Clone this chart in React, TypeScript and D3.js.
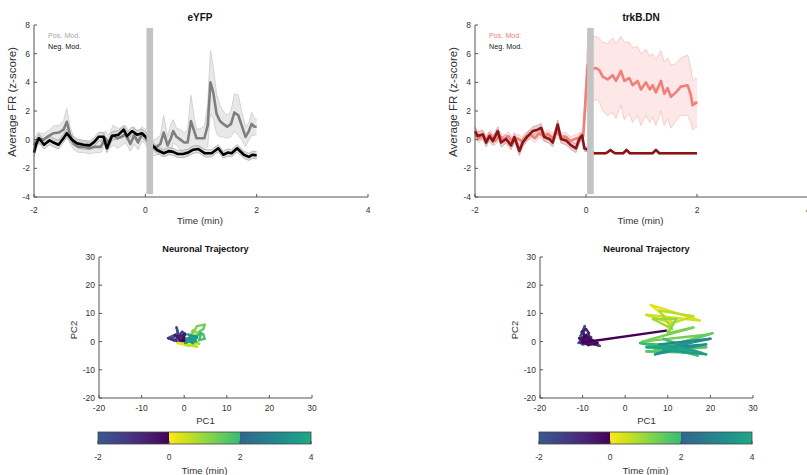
import React from 'react';
import * as d3 from 'd3';

// ---------- Data ----------
const eyfpPosT = [-2, -1.93, -1.83, -1.72, -1.65, -1.55, -1.47, -1.41, -1.35, -1.28, -1.2, -1.1, -1.0, -0.9, -0.8, -0.72, -0.66, -0.58, -0.5, -0.42, -0.35, -0.27, -0.2, -0.13, -0.06, 0, 0.06, 0.13, 0.2, 0.27, 0.33, 0.4, 0.46, 0.5, 0.56, 0.63, 0.7, 0.76, 0.82, 0.86, 0.92, 1.0, 1.06, 1.12, 1.17, 1.22, 1.28, 1.34, 1.4, 1.47, 1.54, 1.6, 1.67, 1.73, 1.8, 1.86, 1.91, 1.96, 2.0];
const eyfpPosM = [-0.4, 0.1, 0, 0.3, 0.45, 0.5, 0.7, 1.25, 0.3, -0.3, -0.5, -0.5, -0.6, -0.5, -0.5, 0.1, -0.2, 0.3, 0.1, 0.2, 0.4, -0.3, 0.3, -0.2, 0.4, 0.2, -0.3, -0.6, -0.5, -0.3, 0.5, -0.4, 0.1, 0.6, 0.2, 0, -0.2, -0.2, 1.3, 0.8, 0.1, 0.1, 0.1, 1.0, 4.0, 3.3, 1.8, 1.3, 1.1, 0.9, 1.1, 1.9, 1.7, 1.0, 0.2, 0.6, 1.1, 0.9, 0.9];
const eyfpPosS = [0.4, 0.4, 0.4, 0.4, 0.5, 0.5, 0.6, 0.95, 0.6, 0.4, 0.4, 0.4, 0.4, 0.4, 0.4, 0.5, 0.5, 0.7, 0.7, 0.6, 0.6, 0.5, 0.6, 0.5, 0.5, 0.5, 0.5, 0.5, 0.6, 0.6, 1.2, 0.6, 1.0, 0.8, 0.6, 0.7, 0.7, 0.9, 1.8, 1.2, 0.6, 0.7, 0.8, 1.5, 2.2, 1.8, 1.4, 1.1, 0.9, 0.8, 0.9, 1.3, 1.4, 1.0, 0.7, 0.6, 0.8, 0.6, 0.5];

const eyfpNegT = [-2, -1.96, -1.91, -1.82, -1.72, -1.65, -1.56, -1.47, -1.41, -1.32, -1.23, -1.11, -1.0, -0.93, -0.84, -0.75, -0.69, -0.6, -0.48, -0.39, -0.33, -0.24, -0.15, -0.06, 0.03, 0.09, 0.21, 0.33, 0.42, 0.5, 0.58, 0.68, 0.77, 0.86, 0.95, 1.07, 1.19, 1.31, 1.4, 1.48, 1.55, 1.65, 1.77, 1.86, 1.93, 2.0];
const eyfpNegM = [-0.9, -0.3, 0.1, -0.35, -0.05, -0.2, -0.35, 0.1, 0.45, 0, -0.25, -0.35, -0.4, -0.2, 0.2, 0.2, -0.6, 0.25, 0.35, 0.7, 0.25, 0.6, 0.35, 0.45, 0.1, -0.25, -0.72, -0.95, -0.8, -0.85, -1.0, -1.0, -0.9, -0.7, -0.65, -0.95, -0.95, -0.6, -1.05, -0.9, -0.95, -0.6, -1.05, -1.2, -1.05, -1.1];
const eyfpNegS = [0.3, 0.3, 0.3, 0.3, 0.3, 0.3, 0.3, 0.3, 0.3, 0.3, 0.3, 0.3, 0.3, 0.3, 0.3, 0.3, 0.3, 0.3, 0.3, 0.3, 0.3, 0.3, 0.3, 0.3, 0.3, 0.25, 0.25, 0.25, 0.25, 0.25, 0.25, 0.25, 0.25, 0.25, 0.25, 0.25, 0.25, 0.25, 0.25, 0.25, 0.25, 0.25, 0.25, 0.25, 0.25, 0.25];

const trkPosT = [-2, -1.93, -1.86, -1.8, -1.72, -1.64, -1.56, -1.48, -1.4, -1.32, -1.24, -1.16, -1.08, -1.0, -0.92, -0.84, -0.76, -0.68, -0.6, -0.52, -0.44, -0.36, -0.28, -0.2, -0.12, -0.05, 0.03, 0.09, 0.18, 0.24, 0.3, 0.39, 0.48, 0.54, 0.63, 0.69, 0.78, 0.84, 0.93, 0.99, 1.08, 1.15, 1.2, 1.26, 1.35, 1.41, 1.47, 1.53, 1.62, 1.71, 1.83, 1.89, 1.92, 1.98, 2.0];
const trkPosM = [0.5, 0.1, 0.3, 0, 0.35, -0.1, 0.3, 0, 0.25, -0.2, 0.1, -0.1, 0.2, 0.35, 0.1, 0.45, 0.2, 0.4, 0.1, 0.5, 0.15, 0.2, -0.1, 0.05, 0.15, 0.25, 5.2, 4.9, 5.0, 4.85, 4.4, 4.2, 4.5, 4.1, 4.8, 4.1, 4.3, 3.8, 4.1, 3.5, 4.0, 3.5, 3.8, 3.3, 4.1, 3.2, 3.6, 3.0, 3.3, 3.7, 3.8, 3.1, 2.4, 2.6, 2.5];
const trkPosS = [0.3, 0.3, 0.3, 0.3, 0.3, 0.3, 0.3, 0.3, 0.3, 0.3, 0.3, 0.3, 0.3, 0.3, 0.3, 0.3, 0.3, 0.3, 0.3, 0.3, 0.3, 0.3, 0.3, 0.3, 0.3, 0.3, 2.0, 2.3, 2.2, 2.2, 2.4, 2.5, 2.6, 2.6, 2.4, 2.7, 2.5, 2.6, 2.4, 2.5, 2.3, 2.3, 2.2, 2.3, 2.1, 2.2, 2.1, 2.2, 2.0, 2.0, 2.1, 1.9, 1.7, 1.7, 1.7];

const trkNegT = [-2, -1.95, -1.86, -1.8, -1.74, -1.68, -1.59, -1.53, -1.44, -1.35, -1.29, -1.2, -1.14, -1.05, -0.96, -0.87, -0.81, -0.75, -0.66, -0.6, -0.51, -0.45, -0.36, -0.27, -0.18, -0.12, -0.07, -0.03, 0.06, 0.15, 0.35, 0.4, 0.44, 0.48, 0.53, 0.67, 0.73, 0.79, 1.2, 1.26, 1.32, 2.0];
const trkNegM = [0.6, 0.25, 0.37, -0.2, 0.25, -0.1, 0.6, -0.2, 0.05, -0.4, 0.18, -0.8, -0.2, 0.25, 0.6, 0.7, 0.83, 0.18, 0.05, -0.2, 1.06, 0.05, -0.05, -0.4, -0.6, 0.05, 0.3, -0.6, -0.75, -0.95, -0.95, -0.85, -0.72, -0.85, -0.95, -0.95, -0.72, -0.95, -0.95, -0.72, -0.95, -0.95];
const trkNegS = [0.3, 0.3, 0.3, 0.3, 0.3, 0.3, 0.3, 0.3, 0.3, 0.3, 0.3, 0.3, 0.3, 0.3, 0.3, 0.3, 0.3, 0.3, 0.3, 0.3, 0.3, 0.3, 0.3, 0.3, 0.3, 0.3, 0.25, 0.2, 0.1, 0.05, 0.05, 0.05, 0.05, 0.05, 0.05, 0.05, 0.05, 0.05, 0.05, 0.05, 0.05, 0.05];

const timeTicks = [-2, 0, 2, 4];
const frTicks = [-4, -2, 0, 2, 4, 6, 8];
const pcTicks = [-20, -10, 0, 10, 20, 30];
const stimWindow = [0.02, 0.14];

// trajectories: PC1, PC2, time (min)
const trajLeftPC1 = [-3.5, -2, -3, -1.5, -1.8, -1.2, -0.5, 0.3, -1, -2.5, -3.8, -1.5, 0, -0.5, 0.2, -1, -2.2, -0.8, 0, -0.5, 0, 0.5, -1.5, 1, 2.5, 0.5, 3, 1.5, 3.5, 2, 3.2, 2, 1.5, 3, 4.8, 4.5, 3.5, 4.5, 4.8, 3.5, 4, 1, 2.5, 0.5, 2, 3, 1, 2.2, 0.2, 1.8, 2.8];
const trajLeftPC2 = [1.5, 2.5, 1, 3, 5, 2, 3.5, 2.5, 1.5, 0.5, 1.2, 0, 1, -0.2, 2.8, 1.8, 2.2, 0.5, 1.5, 0.2, 0.5, -0.8, -0.5, -1.5, -1, -1.2, -1.8, -0.2, -0.8, 1, 3, 4, 1.5, 5.5, 6, 4.5, 3.5, 2.5, 1, 0.5, 3, 0, 2, 1, -0.5, 1.5, 2.5, 0.5, -0.5, 1.8, 0];
const trajLeftT = [-2, -1.9, -1.8, -1.7, -1.6, -1.5, -1.4, -1.3, -1.2, -1.1, -1.0, -0.9, -0.8, -0.7, -0.6, -0.5, -0.4, -0.3, -0.2, -0.1, 0, 0.1, 0.2, 0.3, 0.4, 0.5, 0.6, 0.7, 0.8, 0.9, 1.0, 1.1, 1.2, 1.3, 1.4, 1.5, 1.6, 1.7, 1.8, 1.9, 2.0, 3.0, 3.1, 3.2, 3.3, 3.4, 3.5, 3.6, 3.7, 3.8, 4.0];

const trajRightPC1 = [-11, -10, -9, -10.5, -9.5, -9.8, -8.5, -10, -8, -6, -7.5, -10.5, -9, -8, -9.5, -7, -10, -9, -10.5, -9.5, -8.5, -9.2, -10.2, -9, -7.8, -10.8, -8.7, -6.5, -9.6, -10, 10, 11, 6, 17.5, 5, 11, 16, 8, 11, 6.5, 12, 10, 16, 4, 19.5, 7, 20.5, 12, 18, 5, 19, 6, 17, 9, 15, 3.5, 14, 8, 20, 10, 19, 7, 16, 9, 19, 12, 5, 15];
const trajRightPC2 = [-0.5, 1, 0, 2, 5.5, 1.5, 0.5, -1, -0.5, -1.5, -0.8, 0, 2.5, 1.5, -0.5, -1, 0.5, -0.8, -0.5, 0, 3, 4.5, 3.5, 1, 0.2, 1.2, -1.2, -0.5, 2.2, -0.3, 4, 7, 13, 7.5, 9.5, 6.5, 9, 11, 4.5, 8, 8, 3, 5, 0, 2.5, -3, 3, -1, -4, -3.5, -2, -1, -5, 1, -2, -0.5, -4, -1, 1, -2, -1, -4.5, 0, -3, -4.5, -1.5, -2, -3];
const trajRightT = [-2, -1.93, -1.86, -1.79, -1.72, -1.66, -1.59, -1.52, -1.45, -1.38, -1.31, -1.24, -1.17, -1.1, -1.03, -0.97, -0.9, -0.83, -0.76, -0.69, -0.62, -0.55, -0.48, -0.41, -0.34, -0.28, -0.21, -0.14, -0.07, 0, 0.1, 0.2, 0.3, 0.4, 0.5, 0.6, 0.7, 0.8, 0.9, 1.0, 1.1, 1.2, 1.3, 1.35, 1.4, 1.45, 1.5, 1.55, 1.6, 1.65, 1.7, 1.75, 1.8, 1.85, 1.9, 1.95, 2.0, 3.0, 3.1, 3.2, 3.3, 3.4, 3.5, 3.6, 3.7, 3.8, 3.9, 4.0];

// colour-bar segments: [tStart, tEnd, viridisStart, viridisEnd]
const cbSegments = [
  [-2, 0, 0.28, 0.0],
  [0, 2, 1.0, 0.68],
  [2, 4, 0.32, 0.6],
];

// ---------- Helpers ----------
const FONT = "'Liberation Sans', Arial, Helvetica, sans-serif";
const AX = '#555';
const TXT = '#333';

function timeColor(t: number) {
  for (const [a, b, va, vb] of cbSegments) {
    if (t >= a && t <= b) {
      const f = (t - a) / (b - a);
      return d3.interpolateViridis(va + (vb - va) * f);
    }
  }
  return d3.interpolateViridis(0.6);
}

type Series = { t: number[]; m: number[]; s: number[]; line: string; fill: string; edge: string; fillOp: number };

function TimePanel({ left, right, title, titleX, series, legend }: { left: number; right: number; title: string; titleX: number; series: Series[]; legend: [string, string] }) {
  const x = d3.scaleLinear().domain([-2, 4]).range([left, right]);
  const y = d3.scaleLinear().domain([-4, 8]).range([197, 25]);
  return (
    <g fontFamily={FONT}>
      {series.map((sr, i) => {
        const pts = sr.t.map((t, k) => ({ t, m: sr.m[k], s: sr.s[k] }));
        const area = d3.area<any>().x(d => x(d.t)).y0(d => y(d.m - d.s)).y1(d => y(d.m + d.s));
        const up = d3.line<any>().x(d => x(d.t)).y(d => y(d.m + d.s));
        const lo = d3.line<any>().x(d => x(d.t)).y(d => y(d.m - d.s));
        return (
          <g key={'b' + i}>
            <path d={area(pts) || ''} fill={sr.fill} fillOpacity={sr.fillOp} stroke="none" />
            <path d={up(pts) || ''} fill="none" stroke={sr.edge} strokeWidth={0.8} />
            <path d={lo(pts) || ''} fill="none" stroke={sr.edge} strokeWidth={0.8} />
          </g>
        );
      })}
      {series.map((sr, i) => {
        const pts = sr.t.map((t, k) => ({ t, m: sr.m[k] }));
        const ln = d3.line<any>().x(d => x(d.t)).y(d => y(d.m));
        return <path key={'l' + i} d={ln(pts) || ''} fill="none" stroke={sr.line} strokeWidth={2.6} strokeLinejoin="round" />;
      })}
      <rect x={x(stimWindow[0])} y={y(7.8)} width={x(stimWindow[1]) - x(stimWindow[0])} height={y(-3.8) - y(7.8)} fill="#c4c4c4" />
      {/* axes */}
      <line x1={x(-2)} x2={x(-2)} y1={y(8)} y2={y(-4)} stroke={AX} strokeWidth={1} />
      <line x1={x(-2)} x2={x(4)} y1={y(-4)} y2={y(-4)} stroke={AX} strokeWidth={1} />
      {frTicks.map(v => (
        <g key={'y' + v}>
          <line x1={x(-2)} x2={x(-2) + 3} y1={y(v)} y2={y(v)} stroke={AX} />
          <text x={x(-2) - 4} y={y(v)} dy="0.35em" textAnchor="end" fontSize={8.5} fill={TXT}>{v}</text>
        </g>
      ))}
      {timeTicks.map(v => (
        <g key={'x' + v}>
          <line x1={x(v)} x2={x(v)} y1={y(-4)} y2={y(-4) - 3} stroke={AX} />
          <text x={x(v)} y={213} textAnchor="middle" fontSize={8.5} fill={TXT}>{v}</text>
        </g>
      ))}
      <text x={(x(-2) + x(4)) / 2 - 1} y={223.5} textAnchor="middle" fontSize={9.5} fill={TXT} textLength={46} lengthAdjust="spacingAndGlyphs">Time (min)</text>
      <text transform={`translate(${x(-2) - 18},102) rotate(-90)`} textAnchor="middle" fontSize={10} fill={TXT} textLength={110} lengthAdjust="spacingAndGlyphs">Average FR (z-score)</text>
      <text x={titleX} y={20.5} textAnchor="middle" fontSize={10} fontWeight="bold" fill="#111">{title}</text>
      <text x={x(-2) + 14} y={38} fontSize={7.2} fill={legend[0]}>Pos. Mod.</text>
      <text x={x(-2) + 14} y={49} fontSize={7.2} fill={legend[1]}>Neg. Mod.</text>
    </g>
  );
}

function TrajPanel({ left, pc1, pc2, tt }: { left: number; pc1: number[]; pc2: number[]; tt: number[] }) {
  const x = d3.scaleLinear().domain([-20, 30]).range([left, left + 213]);
  const y = d3.scaleLinear().domain([-20, 30]).range([398, 257]);
  const segs = pc1.slice(0, -1).map((_, i) => ({ x1: x(pc1[i]), y1: y(pc2[i]), x2: x(pc1[i + 1]), y2: y(pc2[i + 1]), c: timeColor(tt[i]) }));
  const cbX = d3.scaleLinear().domain([-2, 4]).range([left - 1, left + 212]);
  const gid = 'cb' + left;
  return (
    <g fontFamily={FONT}>
      <defs>
        {cbSegments.map(([a, b, va, vb], i) => (
          <linearGradient key={i} id={gid + '_' + i} x1="0" x2="1" y1="0" y2="0">
            {d3.range(0, 1.0001, 0.1).map(f => (
              <stop key={f} offset={f} stopColor={d3.interpolateViridis(va + (vb - va) * f)} />
            ))}
          </linearGradient>
        ))}
      </defs>
      {segs.map((s, i) => (
        <line key={i} x1={s.x1} y1={s.y1} x2={s.x2} y2={s.y2} stroke={s.c} strokeWidth={2.4} strokeLinecap="round" />
      ))}
      <line x1={x(-20)} x2={x(-20)} y1={y(30)} y2={y(-20)} stroke={AX} />
      <line x1={x(-20)} x2={x(30)} y1={y(-20)} y2={y(-20)} stroke={AX} />
      {pcTicks.map(v => (
        <g key={'y' + v}>
          <line x1={x(-20)} x2={x(-20) + 3} y1={y(v)} y2={y(v)} stroke={AX} />
          <text x={x(-20) - 4} y={y(v)} dy="0.35em" textAnchor="end" fontSize={8.5} fill={TXT}>{v}</text>
        </g>
      ))}
      {pcTicks.map(v => (
        <g key={'x' + v}>
          <line x1={x(v)} x2={x(v)} y1={y(-20)} y2={y(-20) - 3} stroke={AX} />
          <text x={x(v)} y={411} textAnchor="middle" fontSize={8.5} fill={TXT}>{v}</text>
        </g>
      ))}
      <text x={x(5)} y={423.5} textAnchor="middle" fontSize={9.5} fill={TXT}>PC1</text>
      <text transform={`translate(${x(-20) - 22},330) rotate(-90)`} textAnchor="middle" fontSize={9.5} fill={TXT}>PC2</text>
      <text x={x(5)} y={251.5} textAnchor="middle" fontSize={9.2} fontWeight="bold" fill="#111">Neuronal Trajectory</text>
      {/* colour bar */}
      {cbSegments.map(([a, b], i) => (
        <rect key={i} x={cbX(a)} y={432} width={cbX(b) - cbX(a)} height={12} fill={`url(#${gid}_${i})`} />
      ))}
      <rect x={cbX(-2)} y={432} width={cbX(4) - cbX(-2)} height={12} fill="none" stroke="#444" strokeWidth={0.8} />
      {timeTicks.map(v => (
        <g key={'c' + v}>
          <line x1={cbX(v)} x2={cbX(v)} y1={444} y2={441} stroke="#444" />
          <text x={cbX(v)} y={460} textAnchor="middle" fontSize={8.5} fill={TXT}>{v}</text>
        </g>
      ))}
      <text x={cbX(1)} y={473.5} textAnchor="middle" fontSize={9.5} fill={TXT} textLength={46} lengthAdjust="spacingAndGlyphs">Time (min)</text>
    </g>
  );
}

export default function App() {
  const eyfp: Series[] = [
    { t: eyfpPosT, m: eyfpPosM, s: eyfpPosS, line: '#7f7f7f', fill: '#d6d6d6', edge: '#cacaca', fillOp: 0.55 },
    { t: eyfpNegT, m: eyfpNegM, s: eyfpNegS, line: '#000000', fill: '#bdbdbd', edge: '#a8a8a8', fillOp: 0.5 },
  ];
  const trk: Series[] = [
    { t: trkPosT, m: trkPosM, s: trkPosS, line: '#f07f7a', fill: '#fbd9d7', edge: '#f5c2c0', fillOp: 0.6 },
    { t: trkNegT, m: trkNegM, s: trkNegS, line: '#8c1414', fill: '#d9b0b0', edge: '#caa0a0', fillOp: 0.6 },
  ];
  return (
    <svg width={807} height={475} style={{ position: 'absolute', left: 0, top: 0, background: '#fff' }}>
      <rect width={807} height={475} fill="#fff" />
      <TimePanel left={34} right={368} title="eYFP" titleX={200} series={eyfp} legend={['#a8a8a8', '#111']} />
      <TimePanel left={475} right={808} title="trkB.DN" titleX={641} series={trk} legend={['#f07f7a', '#222']} />
      <TrajPanel left={99} pc1={trajLeftPC1} pc2={trajLeftPC2} tt={trajLeftT} />
      <TrajPanel left={540} pc1={trajRightPC1} pc2={trajRightPC2} tt={trajRightT} />
    </svg>
  );
}
